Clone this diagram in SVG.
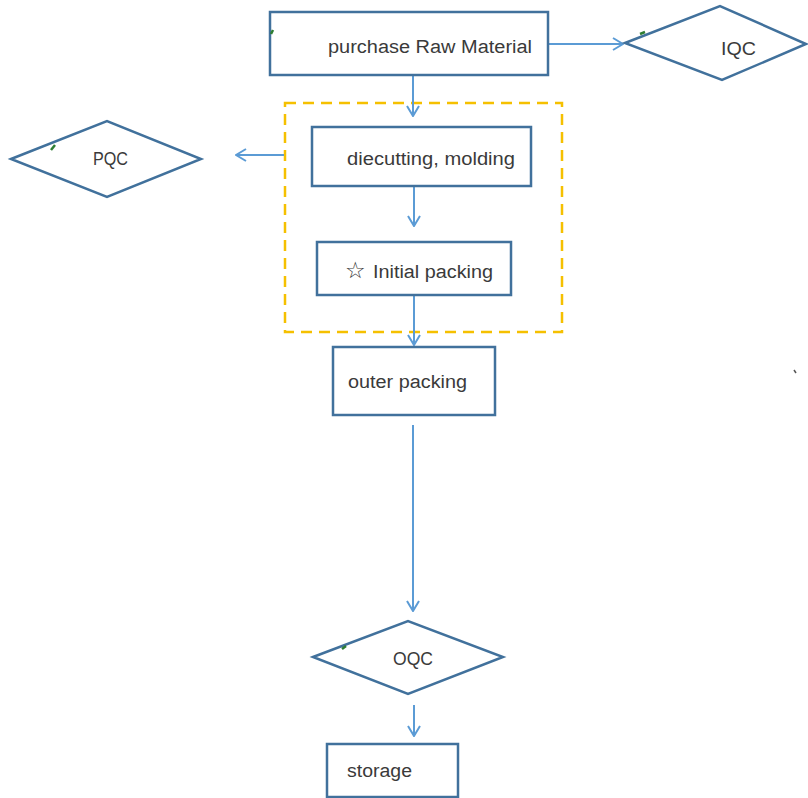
<svg xmlns="http://www.w3.org/2000/svg" width="808" height="798" viewBox="0 0 808 798">
<defs>
<marker id="arr" viewBox="0 0 12 14" refX="11" refY="7" markerWidth="12" markerHeight="14" markerUnits="userSpaceOnUse" orient="auto">
<path d="M1,1 L11,7 L1,13" fill="none" stroke="#5b9bd5" stroke-width="2"/>
</marker>
<style>
.box{fill:#fff;stroke:#41719c;stroke-width:2.5}
.dia{fill:#fff;stroke:#41719c;stroke-width:2.5;stroke-linejoin:miter}
.lbl{font-family:"Liberation Sans",Arial,sans-serif;font-size:18px;fill:#3a3a3a}
.con{stroke:#5b9bd5;stroke-width:2;fill:none;marker-end:url(#arr)}
.grn{stroke:#2e7d32;stroke-width:2.5;fill:none}
</style>
</defs>
<rect width="808" height="798" fill="#fff"/>
<g id="group-dashed">
<rect x="285" y="103" width="277" height="229" fill="none" stroke="#f5c000" stroke-width="2.5" stroke-dasharray="11 7"/>
</g>
<g id="connectors">
<line class="con" x1="413" y1="76" x2="413" y2="116"/>
<line class="con" x1="549" y1="44" x2="623" y2="44"/>
<line class="con" x1="284" y1="155" x2="236" y2="155"/>
<line class="con" x1="414" y1="187" x2="414" y2="226"/>
<line class="con" x1="414" y1="296" x2="414" y2="345"/>
<line class="con" x1="413" y1="425" x2="413" y2="611"/>
<line class="con" x1="414" y1="705" x2="414" y2="736"/>
</g>
<g id="node-purchase">
<rect class="box" x="270" y="12" width="278" height="63"/>
<path class="grn" d="M271,34 L273,30"/>
<text class="lbl" x="328" y="53" textLength="204" lengthAdjust="spacingAndGlyphs">purchase Raw Material</text>
</g>
<g id="node-iqc">
<polygon class="dia" points="625,43 720,6 806,44 722,80"/>
<path class="grn" d="M640,34 L645,32"/>
<text class="lbl" x="721" y="55" textLength="35" lengthAdjust="spacingAndGlyphs">IQC</text>
</g>
<g id="node-pqc">
<polygon class="dia" points="11,159 107,121 201,159 107,197"/>
<path class="grn" d="M51,150 L55,145"/>
<text class="lbl" x="93" y="165" textLength="35" lengthAdjust="spacingAndGlyphs">PQC</text>
</g>
<g id="node-diecutting">
<rect class="box" x="312" y="127" width="219" height="59"/>
<text class="lbl" x="347" y="165" textLength="168" lengthAdjust="spacingAndGlyphs">diecutting, molding</text>
</g>
<g id="node-initial">
<rect class="box" x="317" y="242" width="194" height="53"/>
<text class="lbl" x="345" y="278"><tspan font-size="23" font-family="DejaVu Sans, sans-serif">☆</tspan><tspan x="373" textLength="120" lengthAdjust="spacingAndGlyphs">Initial packing</tspan></text>
</g>
<g id="node-outer">
<rect class="box" x="333" y="347" width="162" height="68"/>
<text class="lbl" x="348" y="388" textLength="119" lengthAdjust="spacingAndGlyphs">outer packing</text>
</g>
<g id="node-oqc">
<polygon class="dia" points="313,657 408,621 503,657 408,694"/>
<path class="grn" d="M342,649 L346,646"/>
<text class="lbl" x="393" y="665" textLength="40" lengthAdjust="spacingAndGlyphs">OQC</text>
</g>
<g id="node-storage">
<rect class="box" x="327" y="744" width="131" height="53"/>
<text class="lbl" x="347" y="777" textLength="65" lengthAdjust="spacingAndGlyphs">storage</text>
</g>
<path d="M794,370 L796,373" stroke="#555" stroke-width="1.5"/>
</svg>
